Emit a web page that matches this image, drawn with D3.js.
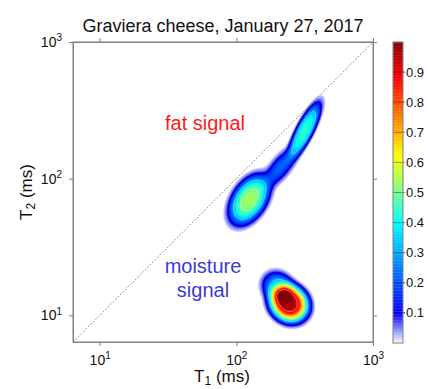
<!DOCTYPE html>
<html>
<head>
<meta charset="utf-8">
<script src="https://cdn.jsdelivr.net/npm/d3@7"></script>
<style>
  html, body { margin: 0; padding: 0; background: #fff; }
  svg { display: block; font-family: Arial, "Liberation Sans", Helvetica, sans-serif; }
</style>
</head>
<body>
<svg id="chart" width="428" height="389"></svg>
<script>
// T1-T2 map components (log10 of ms)
const peakNames = ['fat lower lobe', 'fat neck', 'fat upper lobe', 'moisture core', 'moisture shoulder']
const peakLogT1 = [2.095, 2.32, 2.50, 2.385, 2.305]
const peakLogT2 = [1.845, 2.08, 2.35, 1.088, 1.207]
const peakAmp = [0.54, 0.22, 0.44, 0.96, 0.32]
const peakSigMajor = [0.15, 0.11, 0.17, 0.114, 0.085]
const peakSigMinor = [0.09, 0.045, 0.045, 0.1, 0.075]
const peakAngle = [58, 52, 63, -40, -40]
const peakShape = [3.5, 2.4, 3.4, 3.6, 3]   // profile exponent (2 = gaussian)

const axisTicks = [10, 100, 1000]
const cbTicks = [0.1, 0.2, 0.3, 0.4, 0.5, 0.6, 0.7, 0.8, 0.9]
const lineLevels = [0.1, 0.3, 0.5, 0.7, 0.9]
// colormap stops (value, colour)
const cmapValues = [0, 0.1, 0.4, 0.62, 0.88, 1.0]
const cmapColors = ['#ffffff', '#0000ff', '#00ffff', '#ffff00', '#ff0000', '#800000']

const logLo = 0.805, logHi = 3
const m = { left: 73, right: 373, top: 42, bottom: 342 }
const font = 'Arial, "Liberation Sans", Helvetica, sans-serif'

const svg = d3.select('#chart')
const color = d3.scaleLinear().domain(cmapValues).range(cmapColors).clamp(true)

const x = d3.scaleLog().domain([Math.pow(10, logLo), Math.pow(10, logHi)]).range([m.left, m.right])
const y = d3.scaleLog().domain([Math.pow(10, logLo), Math.pow(10, logHi)]).range([m.bottom, m.top])

// build grid
const n = 220
const step = (logHi - logLo) / (n - 1)
const values = new Float64Array(n * n)
for (let j = 0; j < n; j++) {
  for (let i = 0; i < n; i++) {
    let lx = logLo + i * step, ly = logLo + j * step
    let v = 0
    for (let k = 0; k < peakAmp.length; k++) {
      let a = peakAngle[k] * Math.PI / 180
      let dx = lx - peakLogT1[k], dy = ly - peakLogT2[k]
      let u = dx * Math.cos(a) + dy * Math.sin(a)
      let w = -dx * Math.sin(a) + dy * Math.cos(a)
      let r2 = (u / peakSigMajor[k]) ** 2 + (w / peakSigMinor[k]) ** 2
      v += peakAmp[k] * Math.exp(-0.5 * Math.pow(r2, peakShape[k] / 2))
    }
    values[i + j * n] = v
  }
}

const proj = d3.geoTransform({
  point: function (gx, gy) {
    let lx = logLo + (gx - 0.5) * step
    let ly = logLo + (gy - 0.5) * step
    this.stream.point(x(Math.pow(10, lx)), y(Math.pow(10, ly)))
  }
})
const path = d3.geoPath(proj)

svg.append('clipPath').attr('id', 'clip')
  .append('rect').attr('x', m.left).attr('y', m.top)
  .attr('width', m.right - m.left).attr('height', m.bottom - m.top)

const plot = svg.append('g').attr('clip-path', 'url(#clip)')

const fillLevels = d3.range(0.02, 1.0, 0.008)
plot.selectAll('path.band')
  .data(d3.contours().size([n, n]).thresholds(fillLevels)(values))
  .enter().append('path')
  .attr('class', 'band')
  .attr('d', path)
  .attr('fill', d => color(d.value))
  .attr('stroke', d => color(d.value))
  .attr('stroke-width', 0.3)

plot.selectAll('path.line')
  .data(d3.contours().size([n, n]).thresholds(lineLevels)(values))
  .enter().append('path')
  .attr('class', 'line')
  .attr('d', path)
  .attr('fill', 'none')
  .attr('stroke', d => d.value < 0.2 ? '#0000a8' : d3.interpolateRgb(color(d.value), '#ffffff')(0.45))
  .attr('stroke-width', d => d.value < 0.2 ? 1.1 : 0.9)

// diagonal T1 = T2
plot.append('line')
  .attr('x1', x(Math.pow(10, logLo))).attr('y1', y(Math.pow(10, logLo)))
  .attr('x2', x(1000)).attr('y2', y(1000))
  .attr('stroke', '#707070').attr('stroke-width', 0.7)
  .attr('stroke-dasharray', '2,1.5')

// axes
const supLabel = function (sel) {
  sel.selectAll('.tick text').each(function (d) {
    let t = d3.select(this).text('10')
    t.append('tspan').attr('dy', '-0.55em').attr('font-size', '10px').text(Math.round(Math.log10(d)))
  })
}
const styleAxis = function (g) {
  g.attr('font-size', 14).attr('font-family', font)
  g.select('.domain').attr('stroke', '#808080')
  g.selectAll('.tick line').attr('stroke', '#808080')
  g.selectAll('.tick text').attr('fill', '#111').attr('font-size', '14px')
}

svg.append('g').attr('transform', `translate(0,${m.bottom})`)
  .call(d3.axisBottom(x).tickValues(axisTicks).tickSize(4).tickSizeOuter(0).tickPadding(9))
  .call(styleAxis).call(supLabel)
svg.append('g').attr('transform', `translate(0,${m.top})`)
  .call(d3.axisTop(x).tickValues(axisTicks).tickSize(4).tickSizeOuter(0).tickFormat(''))
  .call(styleAxis)
svg.append('g').attr('transform', `translate(${m.left},0)`)
  .call(d3.axisLeft(y).tickValues(axisTicks).tickSize(4).tickSizeOuter(0).tickPadding(7))
  .call(styleAxis).call(supLabel)
svg.append('g').attr('transform', `translate(${m.right},0)`)
  .call(d3.axisRight(y).tickValues(axisTicks).tickSize(4).tickSizeOuter(0).tickFormat(''))
  .call(styleAxis)

svg.append('rect').attr('x', m.left).attr('y', m.top)
  .attr('width', m.right - m.left).attr('height', m.bottom - m.top)
  .attr('fill', 'none').attr('stroke', '#808080')

// titles
svg.append('text').attr('x', 223).attr('y', 32).attr('text-anchor', 'middle')
  .attr('font-size', '18px').attr('fill', '#111').text('Graviera cheese, January 27, 2017')

const xl = svg.append('text').attr('x', 222).attr('y', 382).attr('text-anchor', 'middle')
  .attr('font-size', '17px').attr('fill', '#111')
xl.append('tspan').text('T')
xl.append('tspan').attr('font-size', '12px').attr('dy', '3').text('1')
xl.append('tspan').attr('dy', '-3').text(' (ms)')

const yl = svg.append('text').attr('transform', 'translate(32,192) rotate(-90)')
  .attr('text-anchor', 'middle').attr('font-size', '17px').attr('fill', '#111')
yl.append('tspan').text('T')
yl.append('tspan').attr('font-size', '12px').attr('dy', '3').text('2')
yl.append('tspan').attr('dy', '-3').text(' (ms)')

// annotations
svg.append('text').attr('x', 205).attr('y', 130).attr('text-anchor', 'middle')
  .attr('font-size', '20px').attr('fill', '#ff1a1a').text('fat signal')
svg.append('text').attr('x', 203).attr('y', 273).attr('text-anchor', 'middle')
  .attr('font-size', '20px').attr('fill', '#3b3bd6').text('moisture')
svg.append('text').attr('x', 203).attr('y', 297).attr('text-anchor', 'middle')
  .attr('font-size', '20px').attr('fill', '#3b3bd6').text('signal')

// colorbar
const cb = { x: 393, w: 10 }
const cy = d3.scaleLinear().domain([0, 1]).range([343, 42])
const cbSteps = d3.range(0, 1, 0.005)
svg.append('g').selectAll('rect')
  .data(cbSteps).enter().append('rect')
  .attr('x', cb.x).attr('width', cb.w)
  .attr('y', d => cy(d + 0.005)).attr('height', cy(0) - cy(0.005) + 0.3)
  .attr('fill', d => color(d + 0.0025))
svg.append('g').selectAll('line')
  .data(cbTicks).enter().append('line')
  .attr('x1', cb.x).attr('x2', cb.x + cb.w + 2)
  .attr('y1', d => cy(d)).attr('y2', d => cy(d))
  .attr('stroke', d => d3.color(color(d)).darker(1.2)).attr('stroke-width', 1)
svg.append('rect').attr('x', cb.x).attr('y', cy(1)).attr('width', cb.w).attr('height', cy(0) - cy(1))
  .attr('fill', 'none').attr('stroke', '#808080')
svg.append('g').selectAll('text')
  .data(cbTicks).enter().append('text')
  .attr('x', cb.x + cb.w + 3).attr('y', d => cy(d)).attr('dy', '0.35em')
  .attr('font-size', '13px').attr('fill', '#111')
  .text(d => d.toFixed(1))
</script>
</body>
</html>
